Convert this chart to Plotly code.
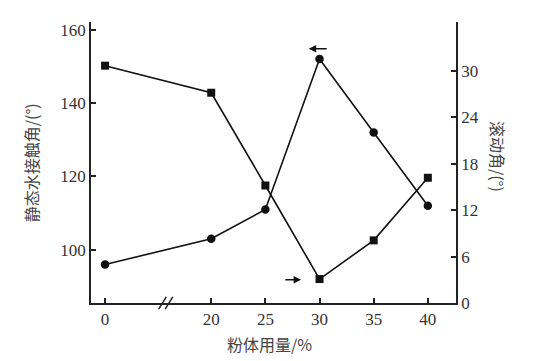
import plotly.graph_objects as go

# Data
x_labels = ["0", "20", "25", "30", "35", "40"]
x_pos = [10.2, 20, 25, 30, 35, 40]  # 0 sits before an axis break
contact_angle = [96, 103, 111, 152, 132, 112]      # left axis, circles
rolling_angle = [30.7, 27.2, 15.2, 3.1, 8.1, 16.2]  # right axis, squares

left_ticks = [100, 120, 140, 160]
right_ticks = [0, 6, 12, 18, 24, 30]

tick_font = dict(family="Times New Roman", size=17, color="#333")
cjk = "Noto Sans CJK SC"

fig = go.Figure()
fig.add_trace(go.Scatter(
    x=x_pos, y=rolling_angle, yaxis="y2", mode="lines+markers",
    line=dict(color="#111", width=1.6),
    marker=dict(symbol="square", size=8, color="#111"),
    showlegend=False))
fig.add_trace(go.Scatter(
    x=x_pos, y=contact_angle, mode="lines+markers",
    line=dict(color="#111", width=1.6),
    marker=dict(symbol="circle", size=8.5, color="#111"),
    showlegend=False))

fig.update_layout(
    width=544, height=361,
    margin=dict(l=91, r=88, t=22, b=58),
    plot_bgcolor="white", paper_bgcolor="white",
    font=dict(family="Times New Roman"),
    xaxis=dict(range=[8.9, 42.6], tickvals=x_pos, ticktext=x_labels,
               showline=True, linecolor="#222", linewidth=1.8,
               ticks="inside", ticklen=5, tickcolor="#222", tickwidth=1.5,
               showgrid=False, zeroline=False, tickfont=tick_font),
    yaxis=dict(range=[85.5, 162.1], tickvals=left_ticks,
               showline=True, linecolor="#222", linewidth=1.8,
               ticks="inside", ticklen=5, tickcolor="#222", tickwidth=1.5,
               showgrid=False, zeroline=False, tickfont=tick_font),
    yaxis2=dict(range=[0, 36.35], tickvals=right_ticks, overlaying="y", side="right",
                showline=True, linecolor="#222", linewidth=1.8,
                ticks="inside", ticklen=5, tickcolor="#222", tickwidth=1.5,
                showgrid=False, zeroline=False, tickfont=tick_font),
)

# axis break marks
for dx in (-0.35, 0.25):
    fig.add_shape(type="line", xref="x", yref="paper",
                  x0=15.5 + dx, x1=16.2 + dx, y0=-0.022, y1=0.022,
                  line=dict(color="#222", width=1.5))

# direction arrows
fig.add_annotation(x=29.0, y=154.8, ax=30.8, ay=154.8, xref="x", yref="y",
                   axref="x", ayref="y", showarrow=True, arrowhead=2,
                   arrowsize=1, arrowwidth=1.5, arrowcolor="#111", text="")
fig.add_annotation(x=28.3, y=3.0, ax=26.7, ay=3.0, xref="x", yref="y2",
                   axref="x", ayref="y2", showarrow=True, arrowhead=2,
                   arrowsize=1, arrowwidth=1.5, arrowcolor="#111", text="")

# titles
fig.add_annotation(text="静态水接触角/(°)", xref="paper", yref="paper",
                   x=-0.165, y=0.5, xanchor="center", yanchor="middle",
                   textangle=-90, showarrow=False,
                   font=dict(family=cjk, size=16, color="#444"))
fig.add_annotation(text="滚动角/(°)", xref="paper", yref="paper",
                   x=1.115, y=0.52, xanchor="center", yanchor="middle",
                   textangle=90, showarrow=False,
                   font=dict(family=cjk, size=16, color="#444"))
fig.add_annotation(text="粉体用量/%", xref="paper", yref="paper",
                   x=0.49, y=-0.145, xanchor="center", yanchor="middle",
                   showarrow=False,
                   font=dict(family=cjk, size=16, color="#444"))

fig.write_html("out.html")
